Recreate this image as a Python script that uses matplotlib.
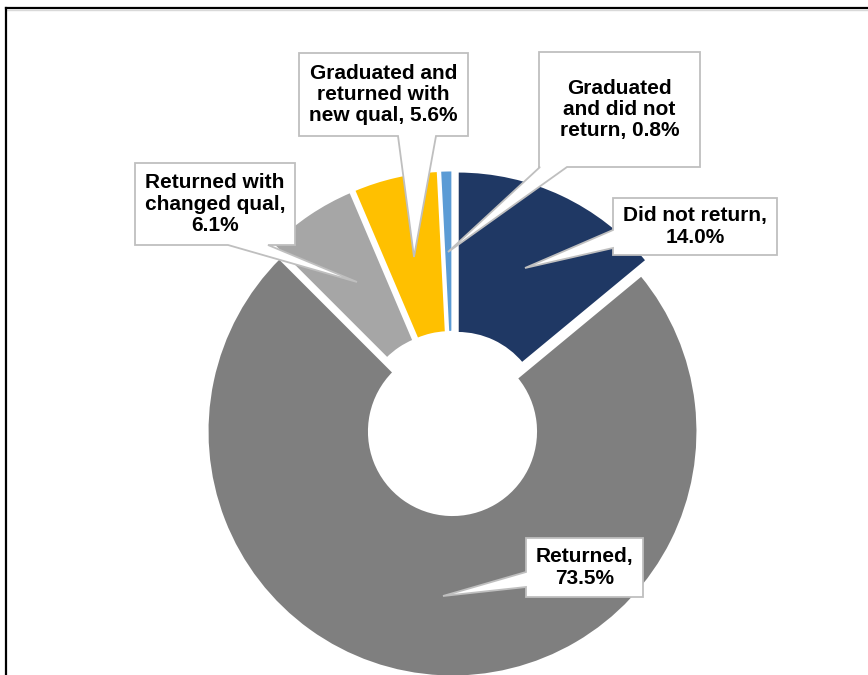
import matplotlib.pyplot as plt
from matplotlib.patches import Polygon
from matplotlib.lines import Line2D

plt.rcParams['font.family'] = ['Liberation Sans', 'DejaVu Sans']

# Share of students by outcome (clockwise from 12 o'clock)
categories = ['Did not return', 'Returned', 'Returned with changed qual',
              'Graduated and returned with new qual', 'Graduated and did not return']
shares = [14.0, 73.5, 6.1, 5.6, 0.8]
label_text = ['Did not return,\n14.0%', 'Returned,\n73.5%', 'Returned with\nchanged qual,\n6.1%',
              'Graduated and\nreturned with\nnew qual, 5.6%', 'Graduated\nand did not\nreturn, 0.8%']
colors = ['#1F3864', '#7F7F7F', '#A6A6A6', '#FFC000', '#5B9BD5']

W, H = 868, 675


def py(y):
    # canvas works in pixel-like units, y measured from the top
    return H - y


fig = plt.figure(figsize=(W / 100, H / 100), dpi=100)
ax = fig.add_axes([0, 0, 1, 1])

# explode is an absolute offset here, in the same units as the radius
ax.pie(shares, colors=colors, startangle=90, counterclock=False,
       explode=[11.7, 4.4, 11.7, 11.7, 11.7],
       radius=245, center=(452.7, py(427.1)),
       wedgeprops=dict(width=161.5, edgecolor='white', linewidth=1.5))
ax.set_xlim(0, W)
ax.set_ylim(0, H)
ax.set_aspect('equal')
ax.axis('off')

# callout boxes: (x0, y0, x1, y1), side the pointer leaves from, pointer base, tip
callouts = [
    ((613, 198, 777, 255), 'left', (230, 248), (525, 268)),
    ((526, 538, 643, 597), 'left', (572, 587), (443, 596)),
    ((135, 163, 295, 245), 'bottom', (228, 268), (357, 282)),
    ((299, 53, 468, 136), 'bottom', (398, 436), (414, 257)),
    ((539, 52, 700, 167), 'bottom', (540, 567), (448, 252)),
]

for text, (box, side, base, tip) in zip(label_text, callouts):
    x0, y0, x1, y1 = box
    if side == 'left':
        pts = [(x0, y0), (x1, y0), (x1, y1), (x0, y1),
               (x0, base[1]), tip, (x0, base[0])]
    else:
        pts = [(x0, y0), (x1, y0), (x1, y1), (base[1], y1),
               tip, (base[0], y1), (x0, y1)]
    poly = Polygon([(x, py(y)) for x, y in pts], closed=True,
                   facecolor='white', edgecolor='#BFBFBF', linewidth=1.3,
                   joinstyle='miter', zorder=3)
    ax.add_patch(poly)
    ax.text((x0 + x1) / 2, py((y0 + y1) / 2), text, ha='center', va='center',
            fontsize=15, fontweight='bold', linespacing=1.15, zorder=4)

# outer frame along the top and left
ax.add_line(Line2D([6, W], [py(8), py(8)], color='black', linewidth=1.6, zorder=5))
ax.add_line(Line2D([6, W], [py(10), py(10)], color='#D9D9D9', linewidth=1.0, zorder=5))
ax.add_line(Line2D([6, 6], [py(8), 0], color='black', linewidth=1.6, zorder=5))

fig.savefig('out.png', dpi=100)
